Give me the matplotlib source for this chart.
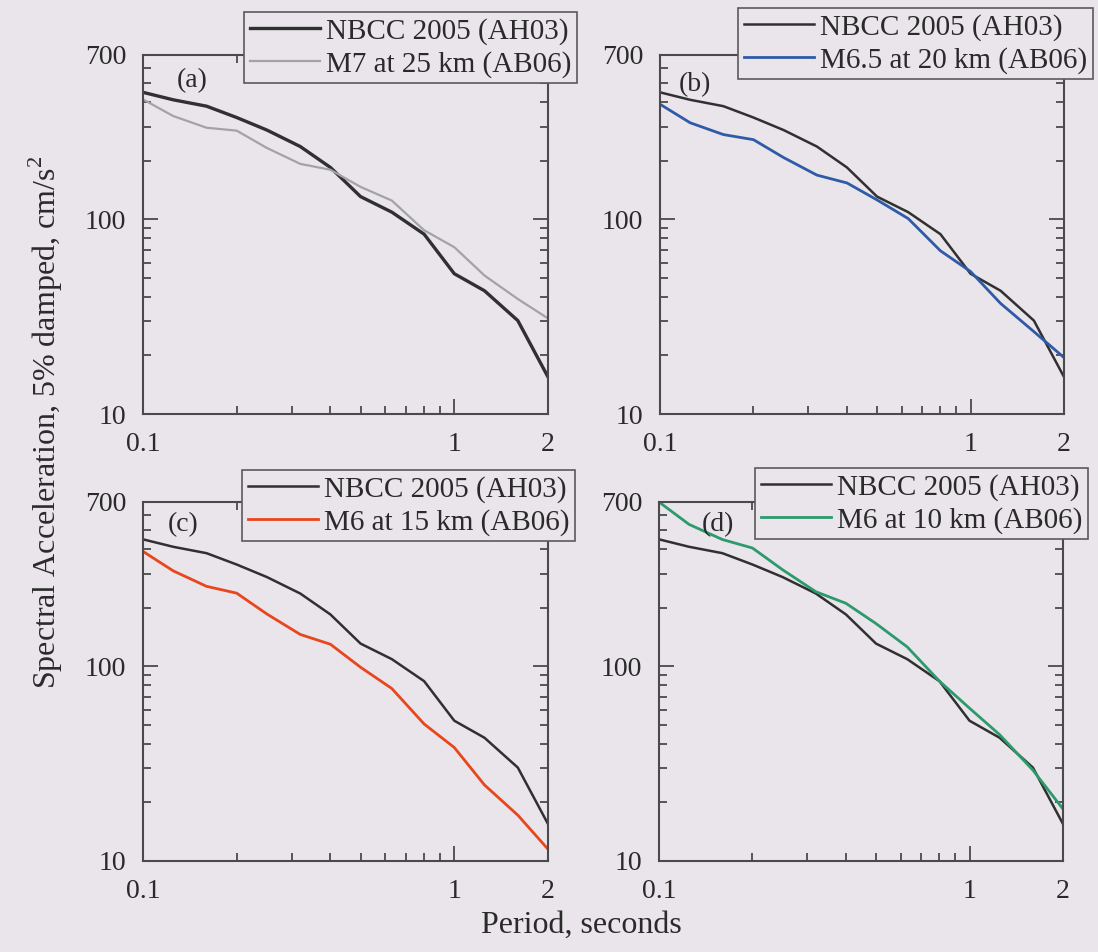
import matplotlib
matplotlib.use("Agg")
import matplotlib.pyplot as plt
from matplotlib.ticker import FixedLocator, NullFormatter, FixedFormatter

plt.rcParams['font.family'] = ['Liberation Serif', 'DejaVu Serif']
plt.rcParams['mathtext.fontset'] = 'custom'
plt.rcParams['mathtext.rm'] = 'Liberation Serif'

# Spectral periods (s)
periods = [0.1, 0.125, 0.16, 0.2, 0.25, 0.32, 0.4, 0.5, 0.63, 0.8, 1.0, 1.25, 1.6, 2.0]

# NBCC 2005 uniform hazard spectrum (AH03), cm/s^2
nbcc = [450, 412, 382, 334, 288, 237, 185, 131, 109, 84, 52.6, 43, 30.2, 15.5]

# Scenario spectra (AB06), cm/s^2
m7_25km = [414, 340, 296, 286, 233, 193, 180, 147, 125, 88, 72, 51.5, 39, 31]
m65_20km = [391, 314, 273, 257, 208, 169, 154, 126, 101, 69, 54, 37, 26.5, 19.5]
m6_15km = [390, 310, 258, 238, 186, 146, 130, 99, 77, 50.6, 38.3, 24.6, 17.2, 11.5]
m6_10km = [700, 537, 449, 406, 314, 242, 211, 166, 126, 84, 61, 44.6, 29.3, 18.5]

scenarios = [
    ("(a)", m7_25km, "M7 at 25 km (AB06)", "#a3a3a6", 1.6, 2.4),
    ("(b)", m65_20km, "M6.5 at 20 km (AB06)", "#2f5aa8", 2.0, 1.8),
    ("(c)", m6_15km, "M6 at 15 km (AB06)", "#e8461c", 2.0, 1.8),
    ("(d)", m6_10km, "M6 at 10 km (AB06)", "#2c9a6c", 2.0, 1.8),
]

W, H = 1098, 952
bg = "#e9e5ea"
fig = plt.figure(figsize=(W / 100, H / 100), dpi=100, facecolor=bg)

# axes boxes in pixels: left, top, right, bottom
boxes = [(143, 55, 548, 414), (660, 55, 1064, 414),
         (143, 502, 548, 861), (659, 502, 1063, 861)]
legend_anchor = [(577, 12), (1093, 8), (575, 470), (1088, 468)]
letter_pos = [(0.084, 0.928), (0.047, 0.918), (0.062, 0.936), (0.106, 0.936)]

spine_col = "#4a4a4a"
for (tag, vals, lab, col, lw, lw_ref), (l, t, r, b), (lx, ly), (ax_x, ax_y) in zip(
        scenarios, boxes, legend_anchor, letter_pos):
    ax = fig.add_axes([l / W, 1 - b / H, (r - l) / W, (b - t) / H])
    ax.set_facecolor(bg)
    ax.set_xscale('log')
    ax.set_yscale('log')
    ax.plot(periods, nbcc, color="#303030", lw=lw_ref, label="NBCC 2005 (AH03)")
    ax.plot(periods, vals, color=col, lw=lw, label=lab)
    ax.set_xlim(0.1, 2)
    ax.set_ylim(10, 700)

    ax.xaxis.set_major_locator(FixedLocator([0.1, 1, 2]))
    ax.xaxis.set_major_formatter(FixedFormatter(["0.1", "1", "2"]))
    ax.xaxis.set_minor_locator(FixedLocator([0.2, 0.3, 0.4, 0.5, 0.6, 0.7, 0.8, 0.9]))
    ax.xaxis.set_minor_formatter(NullFormatter())
    ax.yaxis.set_major_locator(FixedLocator([10, 100, 700]))
    ax.yaxis.set_major_formatter(FixedFormatter(["10", "100", "700"]))
    ax.yaxis.set_minor_locator(FixedLocator([20, 30, 40, 50, 60, 70, 80, 90,
                                             200, 300, 400, 500, 600]))
    ax.yaxis.set_minor_formatter(NullFormatter())

    ax.tick_params(which='both', direction='in', top=True, right=True,
                   colors=spine_col, labelcolor="#2a2a2a", labelsize=20, width=1.3)
    ax.tick_params(which='major', length=11)
    ax.tick_params(which='minor', length=6)
    ax.tick_params(axis='x', which='major', pad=13)
    ax.tick_params(axis='y', which='major', pad=12)
    for sp in ax.spines.values():
        sp.set_color(spine_col)
        sp.set_linewidth(1.5)

    ax.text(ax_x, ax_y, tag, transform=ax.transAxes, fontsize=20,
            color="#2a2a2a", ha='left', va='center')

    leg = ax.legend(loc='upper right', bbox_to_anchor=(lx / W, 1 - ly / H),
                    bbox_transform=fig.transFigure, fontsize=21,
                    frameon=True, fancybox=False, framealpha=1,
                    facecolor=bg, edgecolor="#5a5a5a", borderpad=0.2,
                    labelspacing=0.2, handlelength=2.4, handletextpad=0.2,
                    borderaxespad=0)
    leg.get_frame().set_linewidth(1.2)
    for txt in leg.get_texts():
        txt.set_color("#2a2a2a")

fig.text(581 / W, 1 - 925 / H, "Period, seconds", fontsize=23,
         color="#2a2a2a", ha='center', va='center')
fig.text(46 / W, 1 - 422 / H, "Spectral Acceleration, 5% damped, cm/s$^2$",
         fontsize=23, color="#2a2a2a", rotation=90, ha='center', va='center')

fig.savefig("out.png", dpi=100, facecolor=bg)
